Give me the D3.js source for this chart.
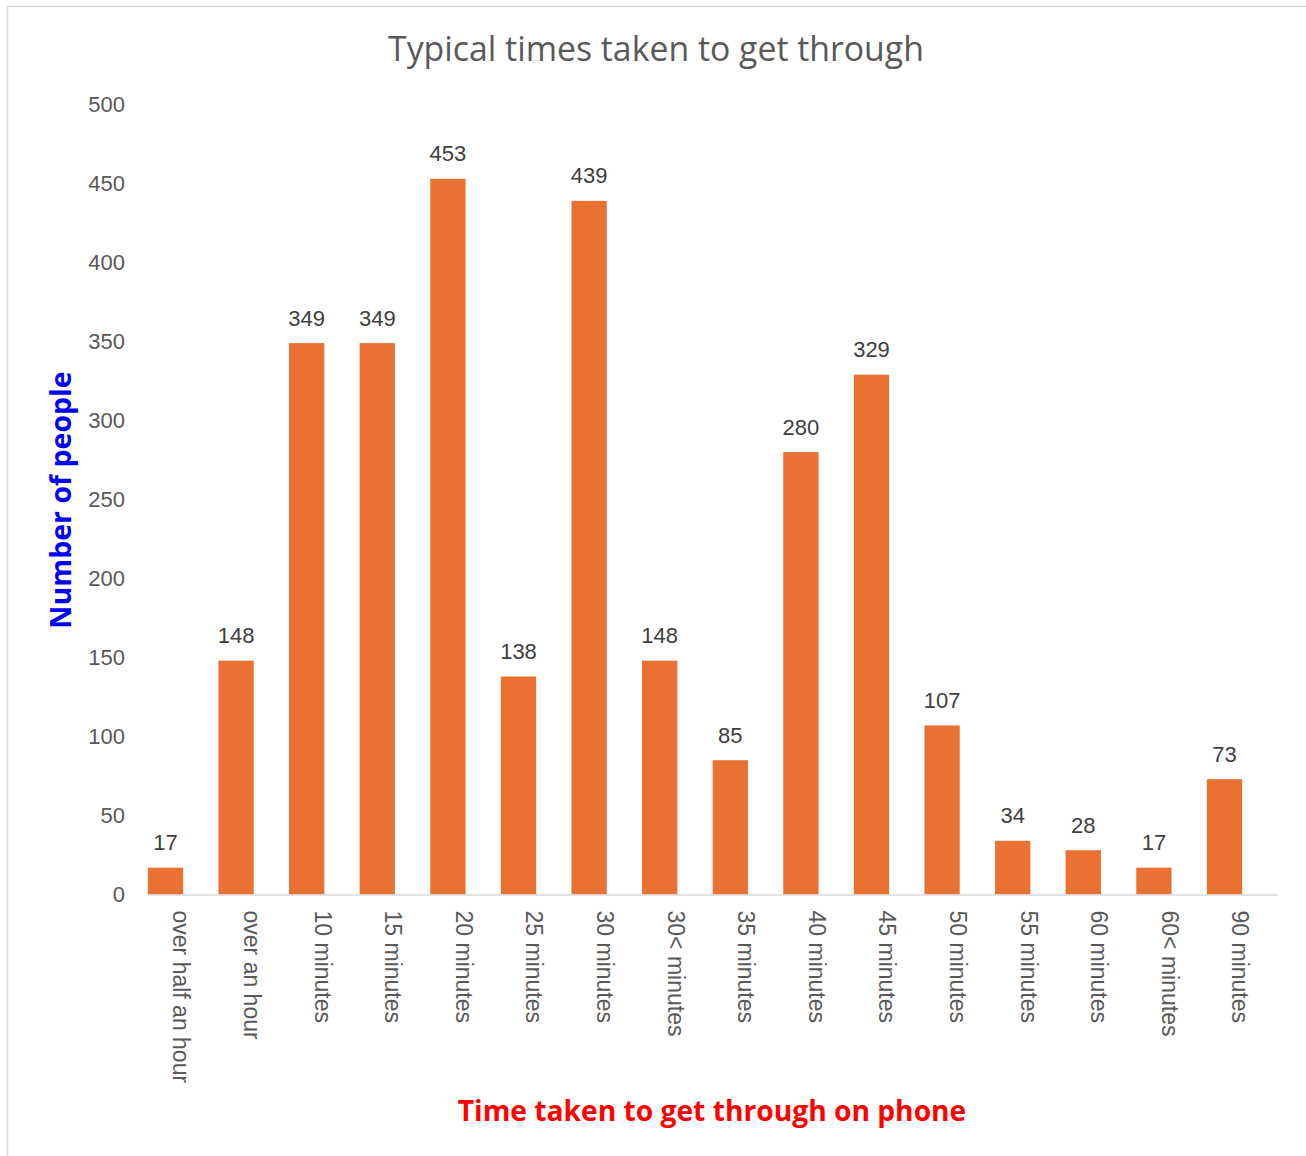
<!DOCTYPE html>
<html>
<head>
<meta charset="utf-8">
<script src="https://cdn.jsdelivr.net/npm/d3@7"></script>
<style>
  html, body { margin: 0; padding: 0; background: #fff; }
  svg { display: block; }
</style>
</head>
<body>
<svg id="chart" width="1306" height="1156"></svg>
<script>
const categories = ["over half an hour", "over an hour", "10 minutes", "15 minutes", "20 minutes",
  "25 minutes", "30 minutes", "30< minutes", "35 minutes", "40 minutes", "45 minutes",
  "50 minutes", "55 minutes", "60 minutes", "60< minutes", "90 minutes"];
const values = [17, 148, 349, 349, 453, 138, 439, 148, 85, 280, 329, 107, 34, 28, 17, 73];
const yTicks = [0, 50, 100, 150, 200, 250, 300, 350, 400, 450, 500];
const titleText = "Typical times taken to get through";
const xTitleText = "Time taken to get through on phone";
const yTitleText = "Number of people";

const svg = d3.select("#chart");
const FONT = "'Liberation Sans', Arial, sans-serif";
const FONT2 = "'Open Sans', sans-serif";

// chart border
svg.append("rect")
  .attr("x", 7.5).attr("y", 6.5)
  .attr("width", 1310).attr("height", 1160)
  .attr("fill", "none").attr("stroke", "#d9d9d9").attr("stroke-width", 1.5);

const x = d3.scaleBand().domain(categories).range([130.2, 1259.8]).paddingInner(0.5).paddingOuter(0.25);
const y = d3.scaleLinear().domain([0, 500]).range([894.5, 104.5]);

// bars
svg.append("g").selectAll("rect").data(values).join("rect")
  .attr("x", (d, i) => x(categories[i]))
  .attr("y", d => y(d))
  .attr("width", x.bandwidth())
  .attr("height", d => y(0) - y(d))
  .attr("fill", "#e97132");

// x axis line
svg.append("line")
  .attr("x1", 148).attr("x2", 1278)
  .attr("y1", y(0) + 0.5).attr("y2", y(0) + 0.5)
  .attr("stroke", "#d9d9d9").attr("stroke-width", 1.5);

// y tick labels
const yAxis = d3.axisLeft(y).tickValues(yTicks).tickSize(0).tickPadding(0);
const gy = svg.append("g").attr("transform", "translate(125,0)").call(yAxis);
gy.select(".domain").remove();
gy.selectAll("text").attr("font-family", FONT).attr("font-size", 22).attr("fill", "#595959").attr("dy", "0.3em");

// x category labels (rotated)
const xAxis = d3.axisBottom(x).tickSize(0).tickPadding(0);
const gx = svg.append("g").attr("transform", `translate(0,${y(0)})`).call(xAxis);
gx.select(".domain").remove();
gx.selectAll("text")
  .attr("font-family", FONT).attr("font-size", 23).attr("fill", "#595959")
  .attr("transform", "translate(16,16) rotate(90)")
  .attr("text-anchor", "start")
  .attr("x", 0).attr("y", 0).attr("dy", "0.35em");

// data labels
svg.append("g").selectAll("text").data(values).join("text")
  .attr("x", (d, i) => x(categories[i]) + x.bandwidth() / 2)
  .attr("y", d => y(d) - 17.5)
  .attr("text-anchor", "middle")
  .attr("font-family", FONT).attr("font-size", 22).attr("fill", "#404040")
  .text(d => d);

// title
svg.append("text")
  .attr("x", 656).attr("y", 61)
  .attr("text-anchor", "middle")
  .attr("font-family", FONT2).attr("font-size", 33.8).attr("fill", "#595959")
  .text(titleText);

// x axis title
svg.append("text")
  .attr("x", 712).attr("y", 1121)
  .attr("text-anchor", "middle")
  .attr("font-family", FONT2).attr("font-weight", "bold").attr("font-size", 28.2).attr("fill", "#ff0000")
  .text(xTitleText);

// y axis title
svg.append("text")
  .attr("transform", "translate(71,500) rotate(-90)")
  .attr("text-anchor", "middle")
  .attr("font-family", FONT2).attr("font-weight", "bold").attr("font-size", 28.5).attr("fill", "#0000ff")
  .text(yTitleText);
</script>
</body>
</html>
